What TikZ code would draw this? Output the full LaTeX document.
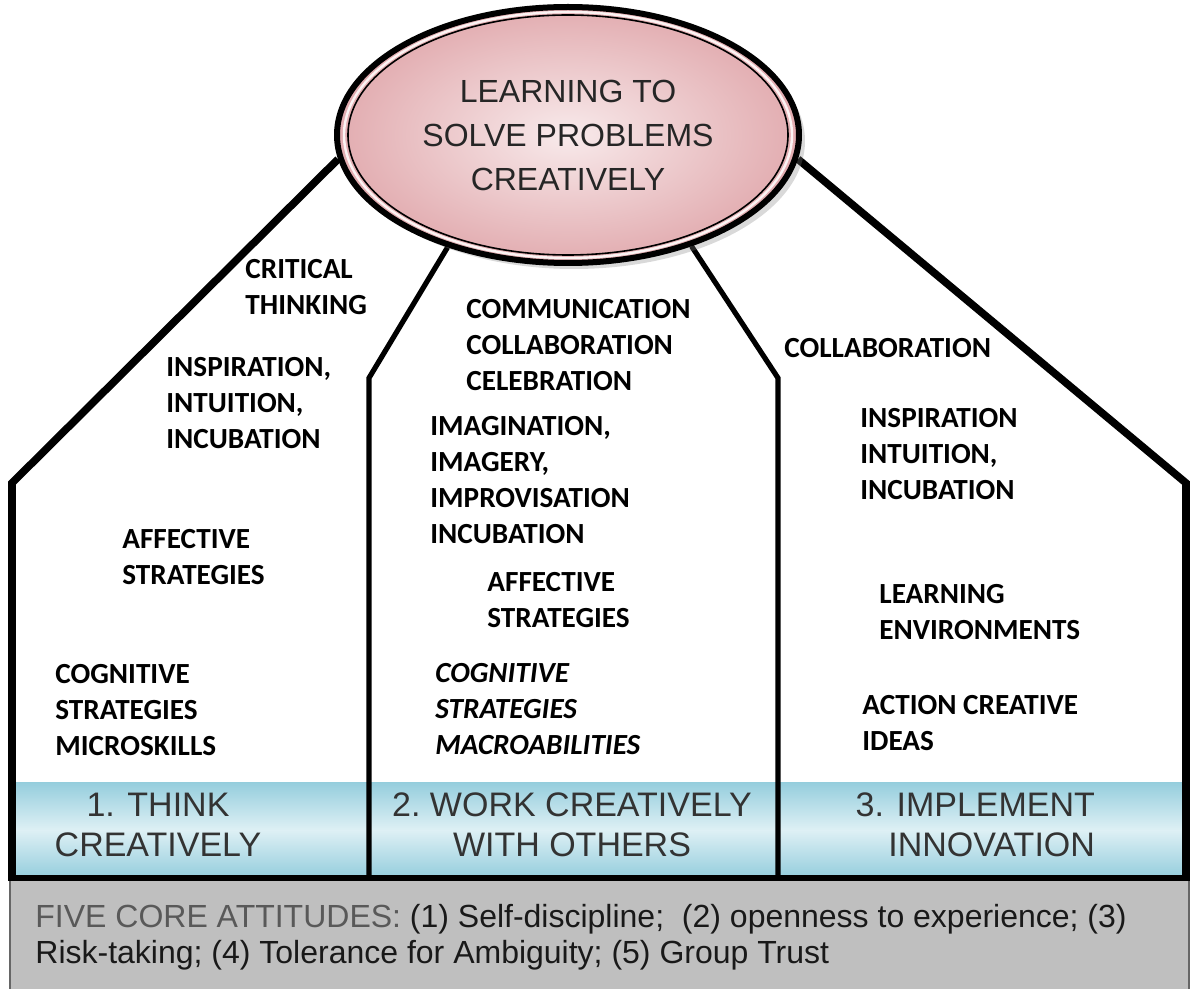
\documentclass[tikz,border=0pt]{standalone}
\usepackage{fontspec}
\setmainfont{Liberation Sans}
\newfontfamily\calfont{Carlito}
\usepackage{tikz}
\usetikzlibrary{shapes.geometric, positioning, backgrounds, shadows}
\definecolor{goalpink}{RGB}{226,172,176}
\definecolor{goallight}{RGB}{248,234,235}
\definecolor{bandblue}{RGB}{150,206,221}
\definecolor{bandlight}{RGB}{222,240,245}
\definecolor{basegray}{RGB}{191,191,191}

\begin{document}
\begin{tikzpicture}[
    x=0.5pt, y=-0.5pt,
    goal/.style={draw, ellipse, line width=3pt, inner color=goallight, outer color=goalpink, minimum width=231pt, minimum height=128pt, font=\fontsize{16}{22}\selectfont, align=center, text=black!85, drop shadow={opacity=0.3, shadow xshift=3pt, shadow yshift=-3pt}},
    skill/.style={anchor=north west, inner sep=0pt, align=left, font=\calfont\bfseries\fontsize{14.6}{18}\selectfont},
    skillit/.style={skill, font=\calfont\bfseries\itshape\fontsize{14.6}{18}\selectfont},
    pillar/.style={align=center, text=black!80, font=\fontsize{17}{20}\selectfont},
    wall/.style={line width=3.8pt, line join=miter},
    divider/.style={line width=2.6pt}
]
    \useasboundingbox (0,0) rectangle (1191,989);

    % Goal
    \node[goal] (goal) at (568,135) {LEARNING TO\\SOLVE PROBLEMS\\CREATIVELY};
    \draw[goallight!60!white, line width=1.2pt] (goal.center) ellipse (112pt and 61.5pt);
    \draw[black, line width=0.8pt] (goal.center) ellipse (110pt and 60pt);

    % Corners of the house
    \coordinate (lt) at (12,483);
    \coordinate (lb) at (12,878);
    \coordinate (rt) at (1186,483);
    \coordinate (rb) at (1186,878);
    \coordinate (d1t) at (369,378);
    \coordinate (d1b) at (369,878);
    \coordinate (d2t) at (778,378);
    \coordinate (d2b) at (778,878);

    % Walls, band and base
    \begin{scope}[on background layer]
        \fill[top color=bandblue, bottom color=bandblue, middle color=bandlight] (12,783) rectangle (1186,877);
        \fill[basegray] (10,880) rectangle (1189,989);
        \draw[black!60, line width=0.8pt] (10,880) -- (10,989);
        \draw[black!60, line width=0.8pt] (1189,880) -- (1189,989);
        \draw[line width=2.6pt] (8,878) -- (1190,878);
        \draw[wall] (goal.186) -- (lt) -- (lb);
        \draw[wall] (goal.354) -- (rt) -- (rb);
        \draw[divider] (goal.223) -- (d1t) -- (d1b);
        \draw[divider] (goal.318) -- (d2t) -- (d2b);
    \end{scope}

    % Think creatively
    \node[skill] (critical) at (245,259) {CRITICAL\\THINKING};
    \node[skill] (inspire1) at (166,357) {INSPIRATION,\\INTUITION,\\INCUBATION};
    \node[skill] (affect1) at (122,529) {AFFECTIVE\\STRATEGIES};
    \node[skill] (cognit1) at (55,664) {COGNITIVE\\STRATEGIES\\MICROSKILLS};

    % Work creatively with others
    \node[skill] (commun) at (466,299) {COMMUNICATION\\COLLABORATION\\CELEBRATION};
    \node[skill] (imagine) at (430,416) {IMAGINATION,\\IMAGERY,\\IMPROVISATION\\INCUBATION};
    \node[skill] (affect2) at (487,572) {AFFECTIVE\\STRATEGIES};
    \node[skillit] (cognit2) at (435,663) {COGNITIVE\\STRATEGIES\\MACROABILITIES};

    % Implement innovation
    \node[skill] (collab) at (784,338) {COLLABORATION};
    \node[skill] (inspire3) at (860,408) {INSPIRATION\\INTUITION,\\INCUBATION};
    \node[skill] (learnenv) at (879,584) {LEARNING\\ENVIRONMENTS};
    \node[skill] (action) at (862,695) {ACTION CREATIVE\\IDEAS};

    % Pillars
    \node[pillar] (think) at (158,825) {1. THINK\\CREATIVELY};
    \node[pillar] (work) at (572,825) {2.\ WORK CREATIVELY\\WITH OTHERS};
    \node[pillar, align=right, anchor=east] (implement) at (1102,825) {3. IMPLEMENT\\INNOVATION};

    % Attitudes
    \node[anchor=north west, inner sep=0pt, align=left, text=black!90, font=\fontsize{16}{18}\selectfont] (attitudes) at (35,904)
        {\textcolor{black!65}{FIVE CORE ATTITUDES:} (1) Self-discipline;\ \ (2) openness to experience; (3)\\Risk-taking; (4) Tolerance for Ambiguity; (5) Group Trust};
\end{tikzpicture}
\end{document}
